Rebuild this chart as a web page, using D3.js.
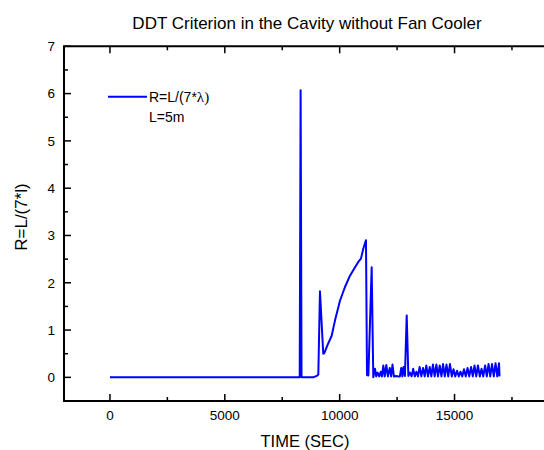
<!DOCTYPE html>
<html><head><meta charset="utf-8">
<script src="https://cdn.jsdelivr.net/npm/d3@7"></script>
<style>
html,body{margin:0;padding:0;background:#fff;overflow:hidden;}
text{font-family:"Liberation Sans",Arial,sans-serif;fill:#000;}
</style></head>
<body><svg id="c" width="544" height="450"></svg>
<script>
// ---- data ----
const title = "DDT Criterion in the Cavity without Fan Cooler";
const xLabel = "TIME (SEC)";
const yLabel = "R=L/(7*l)";
const legendLabel = "R=L/(7*";
const legendNote = "L=5m";
const xMajorTicks = [0, 5000, 10000, 15000];
const xMinorTicks = [2500, 7500, 12500, 17500];
const yMajorTicks = [0, 1, 2, 3, 4, 5, 6, 7];
const yMinorTicks = [0.5, 1.5, 2.5, 3.5, 4.5, 5.5, 6.5];
const timeSec = [0, 8260, 8300, 8340, 8850, 9000, 9070, 9142, 9286, 9330, 9460, 9652, 9795, 10013, 10231, 10449, 10636, 10810, 10927, 11027, 11110, 11145, 11190, 11250, 11393, 11463,
  11538, 11590, 11650, 11720, 11790, 11840, 11900, 11960, 12030, 12100, 12180, 12240, 12300, 12360, 12450, 12560, 12620, 12680, 12730, 12780, 12840, 12918, 12990,
  13060, 13130, 13200, 13270, 13340, 13410, 13480, 13555, 13630, 13700, 13770, 13845, 13920, 13990, 14060, 14135, 14210, 14280, 14355, 14430, 14500, 14575, 14650, 14725, 14800, 14880, 14955, 15030, 15110, 15185, 15260, 15335, 15410, 15490, 15565, 15640, 15720, 15795, 15870, 15945, 16020, 16100, 16175, 16250, 16330, 16405, 16480, 16555, 16630, 16710, 16785, 16860, 16937, 16960];
const ratioR = [0, 0, 6.07, 0, 0, 0.03, 0.06, 1.82, 0.5, 0.51, 0.67, 0.88, 1.2, 1.62, 1.91, 2.15, 2.30, 2.44, 2.51, 2.72, 2.85, 2.90, 0.05, 0.04, 2.33, 0.0,
  0.18, 0.02, 0.10, 0.02, 0.12, 0.02, 0.25, 0.02, 0.26, 0.02, 0.2, 0.02, 0.27, 0.02, 0.03, 0.02, 0.02, 0.2, 0.02, 0.22, 0.03, 1.31, 0.03,
  0.10, 0.02, 0.18, 0.02, 0.12, 0.02, 0.22, 0.02, 0.20, 0.02, 0.25, 0.02, 0.22, 0.02, 0.27, 0.02, 0.27, 0.02, 0.25, 0.02, 0.28, 0.02, 0.27, 0.02, 0.28, 0.02, 0.17, 0.02, 0.14, 0.02, 0.12, 0.02, 0.17, 0.02, 0.20, 0.02, 0.22, 0.02, 0.25, 0.02, 0.25, 0.02, 0.18, 0.02, 0.25, 0.02, 0.28, 0.02, 0.28, 0.02, 0.30, 0.02, 0.30, 0.02];

// ---- drawing ----
const svg = d3.select("#c");
const x = d3.scaleLinear().domain([-2000, 20000]).range([64, 569.4]);
const y = d3.scaleLinear().domain([-0.5, 7]).range([401, 46.3]);
const data = timeSec.map((t, i) => [t, ratioR[i]]);

svg.append("path").datum(data)
  .attr("fill", "none").attr("stroke", "#0000ff").attr("stroke-width", 2)
  .attr("stroke-linejoin", "round")
  .attr("d", d3.line().x(d => x(d[0])).y(d => y(d[1])));

const g = svg.append("g").attr("stroke", "#000");
const [x0, x1] = x.range(), [y0, y1] = y.range();
g.append("path").attr("fill", "none").attr("stroke-width", 2)
  .attr("d", `M${x1},${y1}H${x0}V${y0}H${x1}`);
xMajorTicks.forEach(v => {
  g.append("line").attr("x1", x(v)).attr("x2", x(v)).attr("y1", y0).attr("y2", y0 - 7).attr("stroke-width", 1.5);
  g.append("line").attr("x1", x(v)).attr("x2", x(v)).attr("y1", y1).attr("y2", y1 + 7).attr("stroke-width", 1.5);
});
xMinorTicks.forEach(v => {
  g.append("line").attr("x1", x(v)).attr("x2", x(v)).attr("y1", y0).attr("y2", y0 - 4).attr("stroke-width", 1.5);
  g.append("line").attr("x1", x(v)).attr("x2", x(v)).attr("y1", y1).attr("y2", y1 + 4).attr("stroke-width", 1.5);
});
yMajorTicks.forEach(v => {
  g.append("line").attr("y1", y(v)).attr("y2", y(v)).attr("x1", x0).attr("x2", x0 + 7).attr("stroke-width", 1.5);
});
yMinorTicks.forEach(v => {
  g.append("line").attr("y1", y(v)).attr("y2", y(v)).attr("x1", x0).attr("x2", x0 + 4).attr("stroke-width", 1.5);
});
svg.selectAll(".xl").data(xMajorTicks).enter().append("text")
  .attr("x", d => x(d)).attr("y", 420).attr("text-anchor", "middle")
  .attr("font-size", 13.5).text(d => d);
svg.selectAll(".yl").data(yMajorTicks).enter().append("text")
  .attr("x", 55).attr("y", d => y(d) + 4.8).attr("text-anchor", "end")
  .attr("font-size", 13.5).text(d => d);
svg.append("text").attr("x", 307).attr("y", 29).attr("text-anchor", "middle")
  .attr("font-size", 17).text(title);
svg.append("text").attr("x", 305).attr("y", 447).attr("text-anchor", "middle")
  .attr("font-size", 16.5).text(xLabel);
svg.append("text").attr("transform", "translate(27,217) rotate(-90)").attr("text-anchor", "middle")
  .attr("font-size", 17).text(yLabel);
svg.append("line").attr("x1", 108).attr("x2", 147).attr("y1", 96.7).attr("y2", 96.7)
  .attr("stroke", "#0000ff").attr("stroke-width", 2);
const lt = svg.append("text").attr("x", 149).attr("y", 102).attr("font-size", 14);
lt.append("tspan").text(legendLabel);
lt.append("tspan").attr("font-family", "Liberation Serif").attr("font-size", 15).text("λ)");
svg.append("text").attr("x", 149).attr("y", 122).attr("font-size", 14).text(legendNote);
</script></body></html>
